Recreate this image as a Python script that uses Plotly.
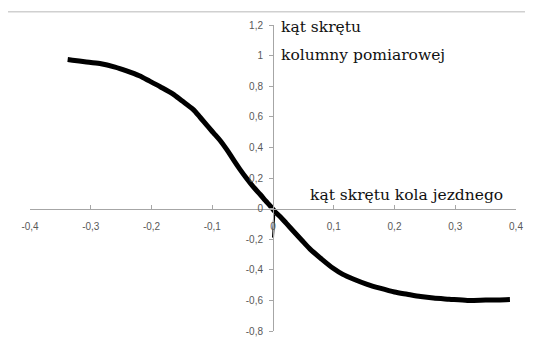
import plotly.graph_objects as go

# Data
wheel_angle = [-0.338, -0.33, -0.31, -0.285, -0.26, -0.241, -0.22, -0.203, -0.185, -0.165,
               -0.15, -0.132, -0.12, -0.109, -0.098, -0.087, -0.076, -0.066, -0.055, -0.043,
               -0.032, -0.021, -0.012, -0.005, 0.0, 0.003, 0.012, 0.022, 0.033, 0.047,
               0.061, 0.08, 0.099, 0.115, 0.132, 0.155, 0.176, 0.2, 0.221, 0.243,
               0.264, 0.29, 0.32, 0.35, 0.37, 0.39]
column_angle = [0.974, 0.97, 0.96, 0.948, 0.925, 0.90, 0.868, 0.833, 0.795, 0.75,
                0.705, 0.65, 0.597, 0.545, 0.495, 0.445, 0.385, 0.325, 0.26, 0.195,
                0.14, 0.092, 0.05, 0.02, -0.005, -0.02, -0.053, -0.097, -0.145, -0.205,
                -0.265, -0.33, -0.39, -0.43, -0.46, -0.495, -0.52, -0.545, -0.56, -0.575,
                -0.585, -0.592, -0.60, -0.598, -0.597, -0.594]
spur_x = [0.002, 0.001, 0.0]
spur_y = [-0.04, -0.12, -0.19]

x_ticks = [-0.4, -0.3, -0.2, -0.1, 0, 0.1, 0.2, 0.3, 0.4]
x_tick_text = ["-0,4", "-0,3", "-0,2", "-0,1", "0", "0,1", "0,2", "0,3", "0,4"]
y_ticks = [-0.8, -0.6, -0.4, -0.2, 0, 0.2, 0.4, 0.6, 0.8, 1.0, 1.2]
y_tick_text = ["-0,8", "-0,6", "-0,4", "-0,2", "0", "0,2", "0,4", "0,6", "0,8", "1", "1,2"]

fig = go.Figure()
fig.add_trace(go.Scatter(x=wheel_angle, y=column_angle, mode="lines",
                         line=dict(color="#000000", width=5, shape="spline", smoothing=0.8),
                         showlegend=False))
fig.add_trace(go.Scatter(x=spur_x, y=spur_y, mode="lines",
                         line=dict(color="#000000", width=2),
                         showlegend=False))

tick_font = dict(family="Liberation Sans", size=10, color="#595959")
axis_color = "#a6a6a6"

# the page adds an 8px body margin, so the figure is 8px smaller than the window
fig.update_layout(
    width=525, height=334,
    margin=dict(l=22, r=17, t=17, b=5),
    paper_bgcolor="white", plot_bgcolor="white",
    xaxis=dict(range=[-0.4, 0.4], tickvals=x_ticks, ticktext=x_tick_text,
               showgrid=False, zeroline=False, showline=True, linecolor=axis_color,
               linewidth=1, ticks="inside", ticklen=4, tickcolor=axis_color,
               anchor="free", position=0.4, tickfont=tick_font,
               ticklabeloverflow="allow", ticklabelstandoff=8),
    yaxis=dict(range=[-0.8, 1.2], tickvals=y_ticks, ticktext=y_tick_text,
               showgrid=False, zeroline=False, showline=True, linecolor=axis_color,
               linewidth=1, ticks="outside", ticklen=4, tickcolor=axis_color,
               anchor="free", position=0.5, tickfont=tick_font,
               ticklabeloverflow="allow", ticklabelstandoff=4),
)

title_font = dict(family="DejaVu Serif", size=15.5, color="#111111")
fig.add_annotation(text="kąt skrętu", xref="paper", yref="paper", x=0.512, y=0.9935,
                   xanchor="left", yanchor="middle", showarrow=False, font=title_font)
fig.add_annotation(text="kolumny pomiarowej", xref="paper", yref="paper", x=0.512, y=0.903,
                   xanchor="left", yanchor="middle", showarrow=False, font=title_font)
fig.add_annotation(text="kąt skrętu kola jezdnego", xref="paper", yref="paper", x=0.977, y=0.445,
                   xanchor="right", yanchor="middle", showarrow=False, font=title_font)

# faint frame of the original chart area
fig.add_shape(type="line", xref="paper", yref="paper", x0=-0.0514, x1=1.04, y0=1.0435, y1=1.0435,
              line=dict(color="#d0d0d0", width=1.5))
fig.add_shape(type="line", xref="paper", yref="paper", x0=-0.0514, x1=-0.0514, y0=1.0435, y1=-0.03,
              line=dict(color="#ececec", width=1))

fig.write_html("out.html")
